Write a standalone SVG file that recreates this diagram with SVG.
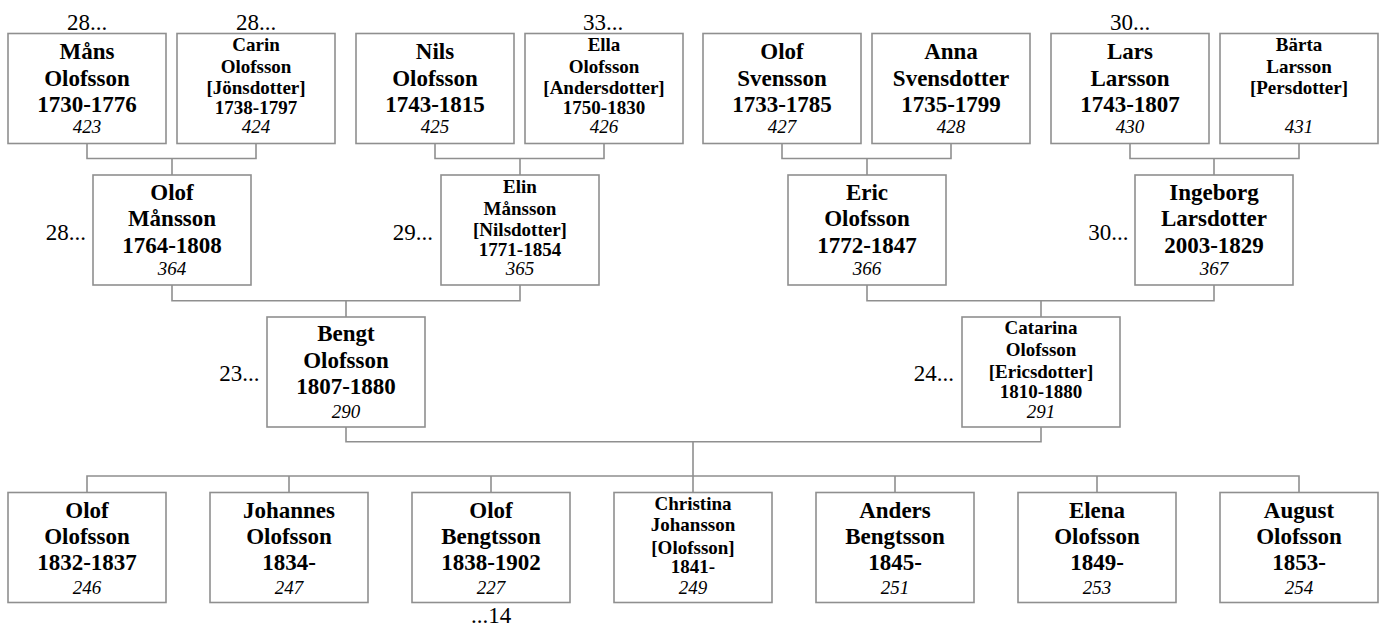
<svg xmlns="http://www.w3.org/2000/svg" width="1382" height="626" viewBox="0 0 1382 626">
<style>
rect.box{fill:#fff;stroke:#8f8f8f;stroke-width:1.6}
.c{fill:none;stroke:#8f8f8f;stroke-width:1.6}
text{font-family:"Liberation Serif","Times New Roman",serif;fill:#000;text-anchor:middle}
.n{font-weight:bold;font-size:23px}
.s{font-weight:bold;font-size:19px}
.i{font-style:italic;font-size:19px}
.l{font-size:23px}
.e{text-anchor:end}
</style>
<rect width="1382" height="626" fill="#fff"/>
<g id="connectors" class="c">
<path d="M87 143.5V158.5H256V143.5M172 158.5V175"/>
<path d="M435 143.5V158.5H604V143.5M520 158.5V175"/>
<path d="M782 143.5V158.5H951V143.5M867 158.5V175"/>
<path d="M1130 143.5V158.5H1299V143.5M1214 158.5V175"/>
<path d="M172 285V300.7H520V285M346 300.7V317"/>
<path d="M867 285V300.7H1214V285M1041 300.7V317"/>
<path d="M346 427V441.7H1041V427M693 441.7V476"/>
<path d="M87 492.5V476H1299V492.5M289 476V492.5M491 476V492.5M693 476V492.5M895 476V492.5M1097 476V492.5"/>
</g>
<g id="n423"><rect class="box" x="8" y="33.5" width="158" height="110"/>
<text class="n" x="87" y="58.5">Måns</text><text class="n" x="87" y="85.5">Olofsson</text><text class="n" x="87" y="111.5">1730-1776</text><text class="i" x="87" y="132.5">423</text>
<text class="l" x="87" y="29.5">28...</text></g>
<g id="n424"><rect class="box" x="177" y="33.5" width="158" height="110"/>
<text class="s" x="256" y="50.5">Carin</text><text class="s" x="256" y="72.5">Olofsson</text><text class="s" x="256" y="94">[Jönsdotter]</text><text class="s" x="256" y="113.5">1738-1797</text><text class="i" x="256" y="132.5">424</text>
<text class="l" x="256" y="29.5">28...</text></g>
<g id="n425"><rect class="box" x="356" y="33.5" width="158" height="110"/>
<text class="n" x="435" y="58.5">Nils</text><text class="n" x="435" y="85.5">Olofsson</text><text class="n" x="435" y="111.5">1743-1815</text><text class="i" x="435" y="132.5">425</text></g>
<g id="n426"><rect class="box" x="525" y="33.5" width="158" height="110"/>
<text class="s" x="604" y="50.5">Ella</text><text class="s" x="604" y="72.5">Olofsson</text><text class="s" x="604" y="94">[Andersdotter]</text><text class="s" x="604" y="113.5">1750-1830</text><text class="i" x="604" y="132.5">426</text>
<text class="l" x="603" y="29.5">33...</text></g>
<g id="n427"><rect class="box" x="703" y="33.5" width="158" height="110"/>
<text class="n" x="782" y="58.5">Olof</text><text class="n" x="782" y="85.5">Svensson</text><text class="n" x="782" y="111.5">1733-1785</text><text class="i" x="782" y="132.5">427</text></g>
<g id="n428"><rect class="box" x="872" y="33.5" width="158" height="110"/>
<text class="n" x="951" y="58.5">Anna</text><text class="n" x="951" y="85.5">Svensdotter</text><text class="n" x="951" y="111.5">1735-1799</text><text class="i" x="951" y="132.5">428</text></g>
<g id="n430"><rect class="box" x="1051" y="33.5" width="158" height="110"/>
<text class="n" x="1130" y="58.5">Lars</text><text class="n" x="1130" y="85.5">Larsson</text><text class="n" x="1130" y="111.5">1743-1807</text><text class="i" x="1130" y="132.5">430</text>
<text class="l" x="1130" y="29.5">30...</text></g>
<g id="n431"><rect class="box" x="1220" y="33.5" width="158" height="110"/>
<text class="s" x="1299" y="50.5">Bärta</text><text class="s" x="1299" y="72.5">Larsson</text><text class="s" x="1299" y="94">[Persdotter]</text><text class="i" x="1299" y="132.5">431</text></g>
<g id="n364"><rect class="box" x="93" y="175" width="158" height="110"/>
<text class="n" x="172" y="199.5">Olof</text><text class="n" x="172" y="226">Månsson</text><text class="n" x="172" y="252.5">1764-1808</text><text class="i" x="172" y="275">364</text>
<text class="l e" x="86" y="240">28...</text></g>
<g id="n365"><rect class="box" x="441" y="175" width="158" height="110"/>
<text class="s" x="520" y="193">Elin</text><text class="s" x="520" y="214.5">Månsson</text><text class="s" x="520" y="236">[Nilsdotter]</text><text class="s" x="520" y="256">1771-1854</text><text class="i" x="520" y="275">365</text>
<text class="l e" x="433" y="240">29...</text></g>
<g id="n366"><rect class="box" x="788" y="175" width="158" height="110"/>
<text class="n" x="867" y="199.5">Eric</text><text class="n" x="867" y="226">Olofsson</text><text class="n" x="867" y="252.5">1772-1847</text><text class="i" x="867" y="275">366</text></g>
<g id="n367"><rect class="box" x="1135" y="175" width="158" height="110"/>
<text class="n" x="1214" y="199.5">Ingeborg</text><text class="n" x="1214" y="226">Larsdotter</text><text class="n" x="1214" y="252.5">2003-1829</text><text class="i" x="1214" y="275">367</text>
<text class="l e" x="1128.5" y="240">30...</text></g>
<g id="n290"><rect class="box" x="267" y="317" width="158" height="110"/>
<text class="n" x="346" y="341">Bengt</text><text class="n" x="346" y="368">Olofsson</text><text class="n" x="346" y="394">1807-1880</text><text class="i" x="346" y="417.5">290</text>
<text class="l e" x="259.5" y="381">23...</text></g>
<g id="n291"><rect class="box" x="962" y="317" width="158" height="110"/>
<text class="s" x="1041" y="334">Catarina</text><text class="s" x="1041" y="355.5">Olofsson</text><text class="s" x="1041" y="377.5">[Ericsdotter]</text><text class="s" x="1041" y="397.5">1810-1880</text><text class="i" x="1041" y="417.5">291</text>
<text class="l e" x="954" y="381">24...</text></g>
<g id="n246"><rect class="box" x="8" y="492.5" width="158" height="110"/>
<text class="n" x="87" y="517.5">Olof</text><text class="n" x="87" y="544">Olofsson</text><text class="n" x="87" y="570">1832-1837</text><text class="i" x="87" y="593.5">246</text></g>
<g id="n247"><rect class="box" x="210" y="492.5" width="158" height="110"/>
<text class="n" x="289" y="517.5">Johannes</text><text class="n" x="289" y="544">Olofsson</text><text class="n" x="289" y="570">1834-</text><text class="i" x="289" y="593.5">247</text></g>
<g id="n227"><rect class="box" x="412" y="492.5" width="158" height="110"/>
<text class="n" x="491" y="517.5">Olof</text><text class="n" x="491" y="544">Bengtsson</text><text class="n" x="491" y="570">1838-1902</text><text class="i" x="491" y="593.5">227</text>
<text class="l" x="491" y="623">...14</text></g>
<g id="n249"><rect class="box" x="614" y="492.5" width="158" height="110"/>
<text class="s" x="693" y="510">Christina</text><text class="s" x="693" y="531">Johansson</text><text class="s" x="693" y="553.5">[Olofsson]</text><text class="s" x="693" y="573">1841-</text><text class="i" x="693" y="593.5">249</text></g>
<g id="n251"><rect class="box" x="816" y="492.5" width="158" height="110"/>
<text class="n" x="895" y="517.5">Anders</text><text class="n" x="895" y="544">Bengtsson</text><text class="n" x="895" y="570">1845-</text><text class="i" x="895" y="593.5">251</text></g>
<g id="n253"><rect class="box" x="1018" y="492.5" width="158" height="110"/>
<text class="n" x="1097" y="517.5">Elena</text><text class="n" x="1097" y="544">Olofsson</text><text class="n" x="1097" y="570">1849-</text><text class="i" x="1097" y="593.5">253</text></g>
<g id="n254"><rect class="box" x="1220" y="492.5" width="158" height="110"/>
<text class="n" x="1299" y="517.5">August</text><text class="n" x="1299" y="544">Olofsson</text><text class="n" x="1299" y="570">1853-</text><text class="i" x="1299" y="593.5">254</text></g>
</svg>
